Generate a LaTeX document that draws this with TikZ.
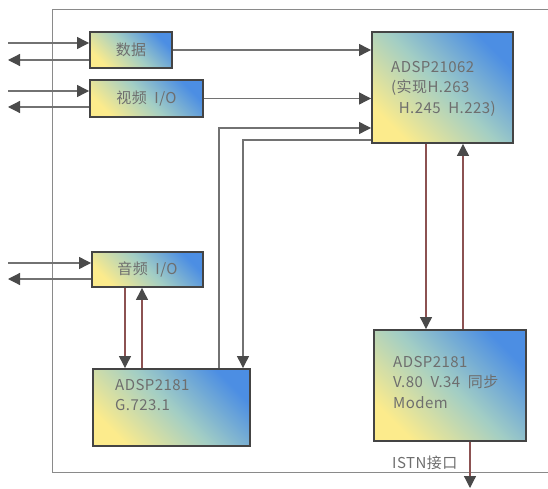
\documentclass[tikz,border=0pt]{standalone}
\usepackage{fontspec}
\setmainfont{Noto Sans CJK SC}[LetterSpace=3]
\usetikzlibrary{arrows.meta,calc}
\definecolor{linegray}{HTML}{727272}
\definecolor{framegray}{HTML}{8A8A8A}
\definecolor{tipgray}{HTML}{4A4A4A}
\definecolor{vred}{HTML}{8C5252}
\definecolor{txtgray}{HTML}{6E6E6E}
\definecolor{bx}{HTML}{444444}
\definecolor{shY}{HTML}{FCEB8C}
\definecolor{shM}{HTML}{A3CEC4}
\definecolor{shB}{HTML}{4C8EE3}
\begin{document}
\begin{tikzpicture}[x=1pt,y=-1pt,
  box/.style={draw=bx, line width=1.9pt, inner sep=0pt,
    top color=shB, bottom color=shY, middle color=shM, shading angle=-45,
    text=txtgray, font=\fontsize{15}{20.5}\selectfont},
  txt/.style={text=txtgray, inner sep=0pt, align=left, font=\fontsize{15}{20.5}\selectfont},
  frame/.style={draw=framegray, line width=1pt},
  arr/.style={draw=linegray, line width=1.2pt, -{Triangle[length=12pt,width=12pt,color=tipgray]}},
  varr/.style={draw=vred, line width=1.2pt, -{Triangle[length=12pt,width=12pt,color=tipgray]}},
  vline/.style={draw=vred, line width=1.2pt}]
\useasboundingbox (0,0) rectangle (548,489);
% frame
\coordinate (TL) at (52,10);
\coordinate (BL) at (52,472);
\coordinate (TR) at (548,10);
\coordinate (BR) at (548,472);
\draw[frame] (TR) -- (TL) -- (BL) -- (BR);
% boxes
\node[box, minimum width=82pt, minimum height=36pt] (data) at (131,50) {数据};
\node[box, minimum width=113pt, minimum height=37pt] (video) at (146.5,98.5) {视频\ \ I/O};
\node[box, minimum width=111pt, minimum height=35pt] (audio) at (147.5,269.5) {音频\ \ I/O};
\node[box, minimum width=141pt, minimum height=111pt] (dsp62) at (442.5,87.5) {};
\node[box, minimum width=157pt, minimum height=77pt] (g723) at (171.5,407.5) {};
\node[box, minimum width=152pt, minimum height=111pt] (modem) at (450,385.5) {};
% box texts
\node[txt, anchor=north west] (t62) at (391,61) {ADSP21062\\(实现H.263\\\ \ H.245\ \ H.223)};
\node[txt, anchor=north west] (tg) at (115,379) {ADSP2181\\G.723.1};
\node[txt, anchor=north west] (tm) at (393,356) {ADSP2181\\V.80\ \ V.34\ \ 同步\\Modem};
% external arrows
\coordinate (dIn) at (8,43);  \coordinate (dOut) at (8,60);
\coordinate (vIn) at (8,91);  \coordinate (vOut) at (8,107);
\coordinate (aIn) at (8,263); \coordinate (aOut) at (8,279);
\draw[arr] (dIn) -- (dIn -| data.west);
\draw[arr] (dOut -| data.west) -- (dOut);
\draw[arr] (vIn) -- (vIn -| video.west);
\draw[arr] (vOut -| video.west) -- (vOut);
\draw[arr] (aIn) -- (aIn -| audio.west);
\draw[arr] (aOut -| audio.west) -- (aOut);
% to ADSP21062
\draw[arr] (data.east) -- (data.east -| dsp62.west);
\draw[arr] (video.east) -- (video.east -| dsp62.west);
\coordinate (gUp) at (219,128);
\draw[arr] (g723.north -| gUp) |- (gUp -| dsp62.west);
\coordinate (gDn) at (243,140);
\draw[arr] (gDn -| dsp62.west) -| (g723.north -| gDn);
% audio <-> g723
\coordinate (agD) at (125,300);
\coordinate (agU) at (142,300);
\draw[varr] (audio.south -| agD) -- (g723.north -| agD);
\draw[varr] (g723.north -| agU) -- (audio.south -| agU);
% dsp62 <-> modem
\coordinate (dmD) at (426,200);
\coordinate (dmU) at (463,200);
\draw[varr] (dsp62.south -| dmD) -- (modem.north -| dmD);
\draw[varr] (modem.north -| dmU) -- (dsp62.south -| dmU);
% modem out
\coordinate (pOut) at (470,488);
\draw[varr] (modem.south -| pOut) -- (pOut);
\node[txt, anchor=base west] (istn) at (392,468) {ISTN接口};
\end{tikzpicture}
\end{document}
